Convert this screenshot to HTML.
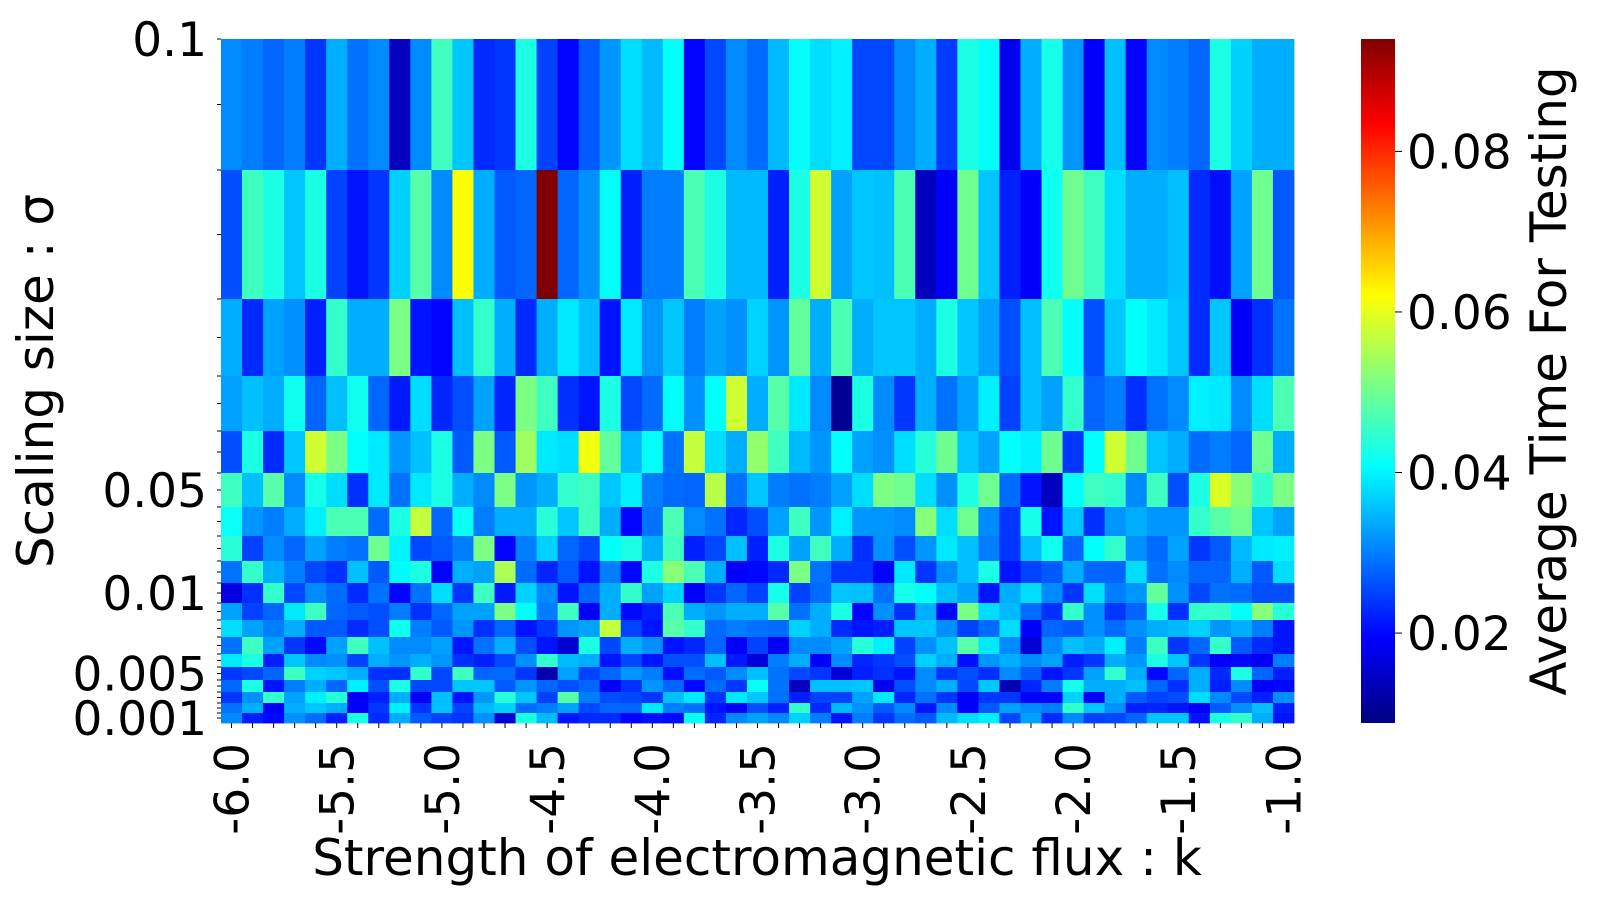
<!DOCTYPE html>
<html>
<head>
<meta charset="utf-8">
<style>
  html,body{margin:0;padding:0;background:#fff;}
  svg{display:block;font-family:"DejaVu Sans","Liberation Sans",sans-serif;}
</style>
</head>
<body>
<svg id="chart" width="1600" height="900" viewBox="0 0 1600 900" xmlns="http://www.w3.org/2000/svg">
  <defs>
    <linearGradient id="cbgrad" x1="0" y1="1" x2="0" y2="0"></linearGradient>
  </defs>
  <g id="cells"></g>
  <g id="axes"></g>
  <rect x="1361" y="39" width="34" height="684" fill="url(#cbgrad)"></rect>
  <text x="757" y="875" font-size="50" text-anchor="middle">Strength of electromagnetic flux : k</text>
  <text transform="translate(53,381) rotate(-90)" font-size="50" text-anchor="middle">Scaling size : σ</text>
  <text transform="translate(1566,381) rotate(-90)" font-size="50" text-anchor="middle">Average Time For Testing</text>
</svg>
<script>
// ---- data ----
const kValues = [];   // categories along x: -6.0 .. -1.0 step 0.1
for (let i = 0; i <= 50; i++) kValues.push(Math.round((-6 + i * 0.1) * 10) / 10);
const xTickLabels = ["-6.0","-5.5","-5.0","-4.5","-4.0","-3.5","-3.0","-2.5","-2.0","-1.5","-1.0"];
const yTickLabels = ["0.1","0.05","0.01","0.005","0.001"];
const yTickRows = [0, 5, 9, 14, 18]; // row index each y label belongs to (0.1 at top edge)
const cbTickValues = [0.02, 0.04, 0.06, 0.08];
const cbTickLabels = ["0.02","0.04","0.06","0.08"];
const vMin = 0.0088, vMax = 0.094;
// average time for testing (x0.001), rows top->bottom, 51 columns each
const row0  = [31,30,28,30,24,34,29,31,14,31,46,36,23,24,43,25,19.5, 27,32,38,35,41,19.5,25.5,31,28.5,35,41,38,39.5,25.5,25.5,31,34, 24.5,43,41,18,34,42.5,32,19,35.5,19.5,31,30,28,43,37,34,34];
const row1  = [26,46,43,36,43,25,21,24,37,48,31,62,34,27,28,94,28, 31.5,41,22,30,30,47,43,35,35,22,43,58,33,36,35.5,47,14, 19,50,36,22,19,42,50,46,38,34,34,35.5,23,20.5,33,50,27];
const row2  = [34,23,33,31.5,22,45,34,34,51,21,19.5,35.5,45,34,23,34,39, 35.5,21,39,32,36,30,33,31.5,37,32,49,34,47,34,36,36,34, 43,36,33,26,35.5,47,41,26,36,41,39,36,23,36,19,23.5,29];
const row3  = [33,35.5,34,42,28,35.5,42,28,21.5,38,22.5,26,33,22.5,51,46,23.5, 21,43,25.5,28.5,41,31.5,41,58,34,48,39,31,10.5,43,31,24,34, 29,33,39.5,25,35.5,33,45,28,30,23.5,29,31,39.5,39,31,38,47];
const row4  = [26,43,23,36,58,51,41,39,32,35.5,43,27,51,27,54,39,38, 61,49,35,41,29,57,38,34,53,46,35,32,41,33,31.5,38,44, 50,36,33,41,39.5,50,24,41,58,50,36,34,28.5,30,28,50,34];
const row5  = [46,35.5,48,31,42.5,38,23.5,39,29,39,43,34,31,51,32,34,45, 46,36,39.5,30,28.5,28,56,29,36,30,29,30,33,38,51,50,38, 31.5,43,50,28.5,21,14,41,46,45,31,46,26,43,59,52,45,51];
const row6  = [41.5,32,30,34,39.5,47,47,28.5,43,57,28,41.5,30,34,34,44,36, 46,34,19.5,29,47,31,29,22.5,26,33,46,32,39.5,32,32,31,52, 38,50,31,24,42.5,21,36,23.5,32,34,32,32,45,48,50,36,33];
const row7  = [44,25,31,28,33,30,29,50,40,25.5,27,30,51,19.5,30,37,28, 25.5,41,43,34,46,22,25.5,35.5,22,43,33,46,34,23.5,31.5,26,32, 39,35.5,30,24,35.5,42,28,41,45,31.5,28.5,33,24,27,35,39,39.5];
const row8  = [29,45,34,30,25.5,23.5,35.5,27,40.5,43,19.5,34,33,55,28.5,22.5,27, 21,30,20,43,52,47,34,19,20,23,51,29,24,24,19.5,39,24, 31,35.5,43,21,25,27,34,28,28,38,29,31,28,28,34,27,38];
const row9  = [17,23.5,45,25.5,31,28.5,23,29,19.5,29,38,24,46,21.5,37,31,21, 28,34,45,33,37,19,24,28,25,42.5,25,28.5,36,35.5,29,42.5,41, 35.5,33,21,34,38,31,24,38,30,32,49,31.5,25.5,29,28.5,26,26];
const row10 = [33,25,28,39,46,28,27,26,30,23.5,28,33,33,51,41,30,46, 19,34,20,22,47,34,32,34,34,48,29,34,43,19.5,31.5,23.5,34, 20,51,38,35,28.5,23.5,45,31.5,24,28,42.5,23.5,45,45,41,52,44];
const row11 = [38,33,30,34,27,27,23,26,42,30,27,32,23.5,28,21,24,32, 33,57,25,21,48,45,28.5,30,29,28.5,37,34,23,21,22,36,36, 31.5,25,28.5,38,19,28,27,31.5,28.5,31.5,34,35,37,32,34,30,21];
const row12 = [29,46,33,24,20,33,46,35.5,31,31,33,21,29,34,26,21,15.5, 43,25.5,34,31.5,21,22.5,28,19,25,19,31,31,33,44,39.5,25,31.5, 35.5,48,39,31,16,31,35.5,34,39.5,30,46,24,28,45,27,23,21];
const row13 = [39,43,22,36,31,31.5,25,34,32,34,32,23.5,22,25.5,31.5,45,35, 34,21,25.5,21,26,26,35.5,21.5,16.5,30,34,19,31,22.5,24,26,37, 34,20.5,32,34,31,33,22,24,34,32,43,36,24,19,20,18.5,30];
const row14 = [24,25.5,28,46,37,36,34,23.5,23.5,45,25.5,46,28,28.5,24,12.5,33, 25,28,32,30,20.5,28.5,27,31,35.5,29,25.5,24,16,22,23.5,21,31, 24,26,23.5,31,27,21,24,33,45,34,20,28,34,23,43,28,22];
const row15 = [28,43,21,30,34,28,39.5,26,43,25.5,25.5,36,36,27,32,28,26, 28,19,23.5,32,28,20,28.5,24,41.5,29,14,35.5,35.5,36,18,26,31, 34,25.5,36,13,22.5,30,42.5,34,34,35.5,28,23.5,34,22,31,19,20];
const row16 = [24,31.5,45,33,39.5,44,19,22,34,19,35.5,21,32,44,36,25,48, 30,26,25.5,24,35.5,39,24,39,36,29,22,25,25,33,39,22.5,29, 24,19,24,24,19.5,19.5,37,19.5,34,27,25,26,38,31,25.5,22,31.5];
const row17 = [29,34,19,34,36,34,19,24,39.5,24,35.5,25,35,37,28.5,30,33, 25.5,28,28,39,30,29,21,19,26,22,45,23,35,31.5,27,31,21, 31,19,27,33,31,30,45,36,31.5,22,22.5,21,19,27,31.5,35.5,22];
const row18 = [31,22,20,31.5,28.5,22,43,23,34,27,25,24,31.5,15.5,43,35,21, 23,23,19.5,20.5,20,41.5,22.5,31,33,31,37,30,21,30,24,28.5,27, 35,38,39.5,25.5,33,23,31,25,25.5,28,36,36,21,43,45,34,21];
const timeRows = [row0,row1,row2,row3,row4,row5,row6,row7,row8,row9,row10,row11,row12,row13,row14,row15,row16,row17,row18];

// ---- layout (non-data) ----
const PLOT = {left: 221, right: 1294, top: 39, bottom: 723};
const ROW_EDGES_PX = [39,170,299,376,431,473,507,536,561,583,603,620,637,654,667,680,692,703,713,723];
const NS = "http://www.w3.org/2000/svg";

function jet(v) {
  let t = (v - vMin) / (vMax - vMin);
  t = Math.max(0, Math.min(1, t));
  const c = x => Math.round(255 * Math.max(0, Math.min(1, x)));
  return `rgb(${c(1.5 - Math.abs(4*t - 3))},${c(1.5 - Math.abs(4*t - 2))},${c(1.5 - Math.abs(4*t - 1))})`;
}
const colW = (PLOT.right - PLOT.left) / kValues.length;
function xLeft(i) { return PLOT.left + i * colW; }
function xCenter(i) { return PLOT.left + (i + 0.5) * colW; }
function yTop(r) { return ROW_EDGES_PX[r]; }
function yBottom(r) { return ROW_EDGES_PX[r + 1]; }
function cbY(v) { return PLOT.bottom - (v - vMin) / (vMax - vMin) * (PLOT.bottom - PLOT.top); }

function mk(tag, attrs, parent) {
  const el = document.createElementNS(NS, tag);
  for (const k in attrs) el.setAttribute(k, attrs[k]);
  parent.appendChild(el);
  return el;
}

const cells = document.getElementById('cells');
timeRows.forEach((row, r) => {
  row.forEach((val, i) => {
    const x0 = xLeft(i), x1 = xLeft(i + 1);
    const el = mk('rect', {x: x0.toFixed(2), y: yTop(r), width: (x1 - x0 + 0.4).toFixed(2), height: yBottom(r) - yTop(r) + 0.4, fill: jet(val / 1000)}, cells);
    
    
  });
});

const axes = document.getElementById('axes');
// x ticks at each column
kValues.forEach((k, i) => {
  const t = mk('line', {x1: xCenter(i), x2: xCenter(i), y1: PLOT.bottom, y2: PLOT.bottom + 5, stroke: '#000', 'stroke-width': 1}, axes);
  
  
});
xTickLabels.forEach((lab, j) => {
  const idx = kValues.indexOf(parseFloat(lab));
  const cx = xCenter(idx);
  const t = mk('text', {transform: `translate(${cx},743) rotate(-90)`, 'font-size': 47, 'text-anchor': 'end', dy: '0.36em'}, axes);
  t.textContent = lab;
  
  
});
// y ticks at row edges and centers
for (let r = 0; r < timeRows.length; r++) {
  [yTop(r), (yTop(r) + yBottom(r)) / 2].forEach(yy => {
    const t = mk('line', {x1: PLOT.left - 4, x2: PLOT.left, y1: yy, y2: yy, stroke: '#000', 'stroke-width': 1}, axes);
    
    
  });
}
yTickLabels.forEach((lab, j) => {
  const r = yTickRows[j];
  const cy = j === 0 ? yTop(0) : (yTop(r) + yBottom(r)) / 2;
  const t = mk('text', {x: 207, y: cy + 17, 'font-size': 47, 'text-anchor': 'end'}, axes);
  t.textContent = lab;
  
  
});
// colorbar gradient
const grad = document.getElementById('cbgrad');
for (let s = 0; s <= 40; s++) {
  const f = s / 40;
  mk('stop', {offset: f, 'stop-color': jet(vMin + f * (vMax - vMin))}, grad);
}
cbTickValues.forEach((v, j) => {
  const yy = cbY(v);
  const t = mk('line', {x1: 1395, x2: 1402, y1: yy, y2: yy, stroke: '#000', 'stroke-width': 1}, axes);
  
  
  const l = mk('text', {x: 1407, y: yy + 17, 'font-size': 47}, axes);
  l.textContent = cbTickLabels[j];
  
  
});
</script>
</body>
</html>
